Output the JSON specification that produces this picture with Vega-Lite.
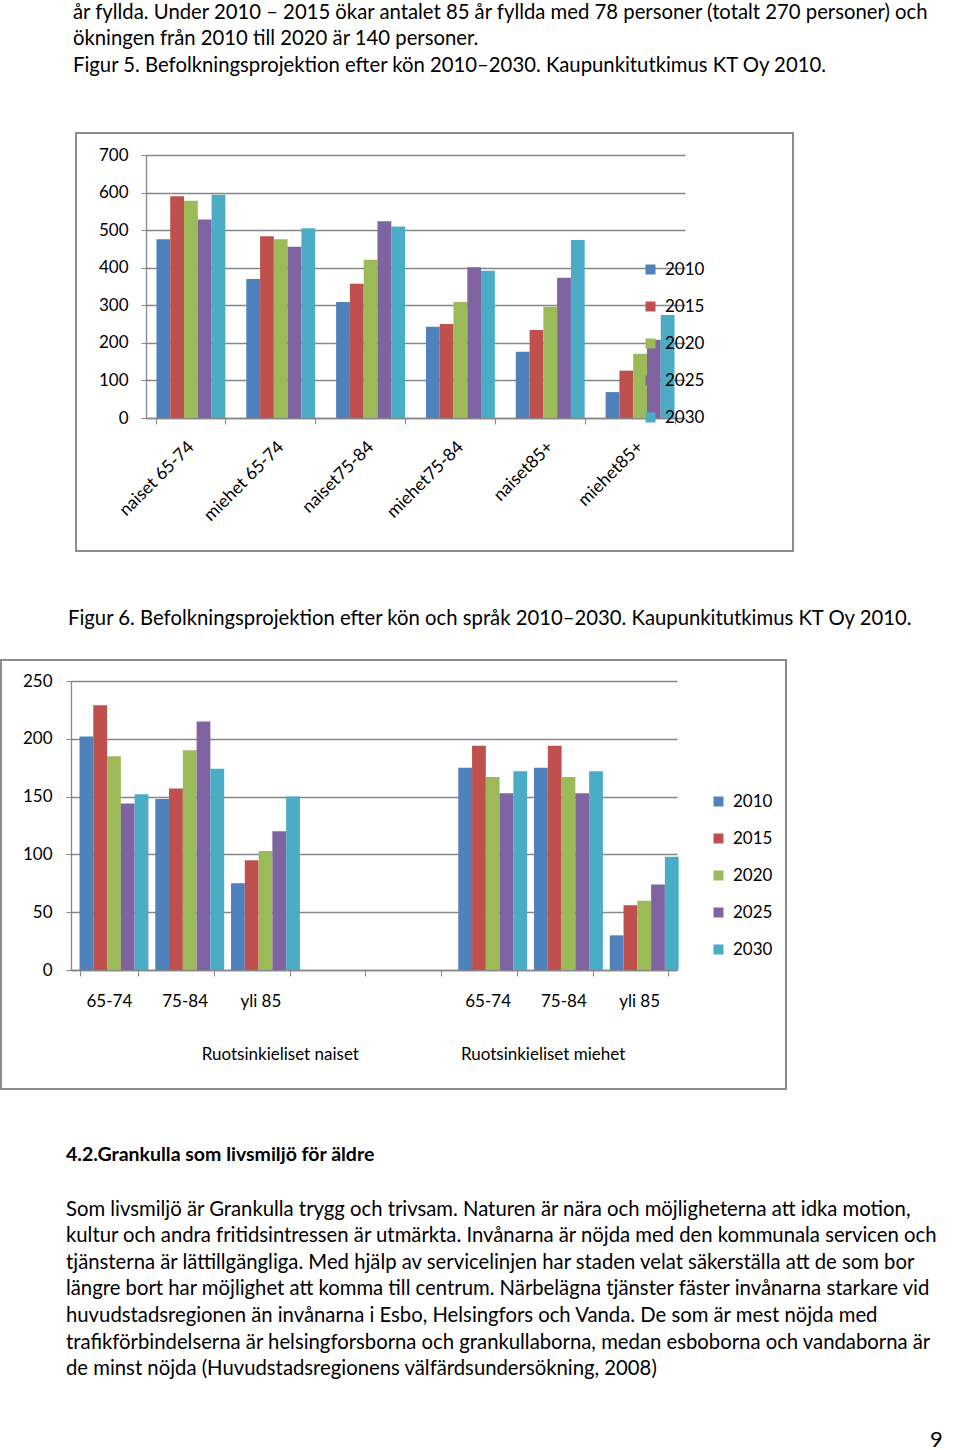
{
  "$schema": "https://vega.github.io/schema/vega-lite/v6.json",
  "background": "white",
  "padding": {"top": 1, "left": 0, "right": 0, "bottom": 0},
  "spacing": 29,
  "title": {"text": "9", "orient": "bottom", "anchor": "end", "frame": "bounds", "offset": 49, "fontSize": 22, "dx": 4},
  "vconcat": [
    {
      "hconcat": [
        {"width": 67, "height": 10, "data": {"values": [{"a": 1}]}, "mark": {"type": "point", "opacity": 0}},
        {
          "width": 717,
          "height": 418,
          "view": {"stroke": "#8c8c8c", "strokeWidth": 2},
          "title": {
            "text": [
              "år fyllda. Under 2010 – 2015 ökar antalet 85 år fyllda med 78 personer (totalt 270 personer) och",
              "ökningen från 2010 till 2020 är 140 personer.",
              "\u00a0",
              "Figur 5. Befolkningsprojektion efter kön 2010–2030. Kaupunkitutkimus KT Oy 2010."
            ],
            "dx": -3,
            "offset": 30
          },
          "data": {
            "values": [
              {"ryhma": "naiset 65-74", "vuosi": "2010", "henkilot": 476},
              {"ryhma": "naiset 65-74", "vuosi": "2015", "henkilot": 590},
              {"ryhma": "naiset 65-74", "vuosi": "2020", "henkilot": 578},
              {"ryhma": "naiset 65-74", "vuosi": "2025", "henkilot": 528},
              {"ryhma": "naiset 65-74", "vuosi": "2030", "henkilot": 594},
              {"ryhma": "miehet 65-74", "vuosi": "2010", "henkilot": 370},
              {"ryhma": "miehet 65-74", "vuosi": "2015", "henkilot": 484},
              {"ryhma": "miehet 65-74", "vuosi": "2020", "henkilot": 476},
              {"ryhma": "miehet 65-74", "vuosi": "2025", "henkilot": 456},
              {"ryhma": "miehet 65-74", "vuosi": "2030", "henkilot": 505},
              {"ryhma": "naiset75-84", "vuosi": "2010", "henkilot": 309},
              {"ryhma": "naiset75-84", "vuosi": "2015", "henkilot": 357},
              {"ryhma": "naiset75-84", "vuosi": "2020", "henkilot": 421},
              {"ryhma": "naiset75-84", "vuosi": "2025", "henkilot": 524},
              {"ryhma": "naiset75-84", "vuosi": "2030", "henkilot": 510},
              {"ryhma": "miehet75-84", "vuosi": "2010", "henkilot": 243},
              {"ryhma": "miehet75-84", "vuosi": "2015", "henkilot": 250},
              {"ryhma": "miehet75-84", "vuosi": "2020", "henkilot": 309},
              {"ryhma": "miehet75-84", "vuosi": "2025", "henkilot": 401},
              {"ryhma": "miehet75-84", "vuosi": "2030", "henkilot": 392},
              {"ryhma": "naiset85+", "vuosi": "2010", "henkilot": 176},
              {"ryhma": "naiset85+", "vuosi": "2015", "henkilot": 234},
              {"ryhma": "naiset85+", "vuosi": "2020", "henkilot": 296},
              {"ryhma": "naiset85+", "vuosi": "2025", "henkilot": 373},
              {"ryhma": "naiset85+", "vuosi": "2030", "henkilot": 474},
              {"ryhma": "miehet85+", "vuosi": "2010", "henkilot": 69},
              {"ryhma": "miehet85+", "vuosi": "2015", "henkilot": 126},
              {"ryhma": "miehet85+", "vuosi": "2020", "henkilot": 171},
              {"ryhma": "miehet85+", "vuosi": "2025", "henkilot": 208},
              {"ryhma": "miehet85+", "vuosi": "2030", "henkilot": 274}
            ]
          },
          "mark": {"type": "bar"},
          "encoding": {
            "x": {
              "field": "ryhma",
              "type": "nominal",
              "sort": ["naiset 65-74", "miehet 65-74", "naiset75-84", "miehet75-84", "naiset85+", "miehet85+"],
              "scale": {"range": [70, 609], "paddingInner": 0.233, "paddingOuter": 0.1165},
              "axis": {
                "title": null,
                "offset": -133,
                "tickBand": "extent",
                "tickSize": 6,
                "labelAngle": -45,
                "labelAlign": "right",
                "labelBaseline": "middle",
                "labelPadding": 20,
                "labelFontSize": 17.5
              }
            },
            "xOffset": {"field": "vuosi", "type": "nominal"},
            "y": {
              "field": "henkilot",
              "type": "quantitative",
              "scale": {"domain": [0, 700], "range": [285, 22], "nice": false},
              "axis": {"title": null, "offset": -70, "tickCount": 7, "tickSize": 5, "labelPadding": 13, "grid": true}
            },
            "color": {
              "field": "vuosi",
              "type": "nominal",
              "scale": {"range": ["#4F81BD", "#C0504D", "#9BBB59", "#8064A2", "#4BACC6"]},
              "legend": {"title": null, "orient": "none", "legendX": 641, "legendY": 128}
            }
          }
        }
      ],
      "spacing": 0,
      "title": {
        "text": "Figur 6. Befolkningsprojektion efter kön och språk 2010–2030. Kaupunkitutkimus KT Oy 2010.",
        "orient": "bottom",
        "dx": 67,
        "offset": 57
      }
    },
    {
      "width": 785,
      "height": 429,
      "view": {"stroke": "#8c8c8c", "strokeWidth": 2},
      "title": {
        "text": "4.2.Grankulla som livsmiljö för äldre",
        "fontWeight": "bold",
        "fontSize": 19.5,
        "orient": "bottom",
        "dx": 65,
        "offset": 57,
        "subtitlePadding": 34,
        "subtitle": [
          "Som livsmiljö är Grankulla trygg och trivsam. Naturen är nära och möjligheterna att idka motion,",
          "kultur och andra fritidsintressen är utmärkta. Invånarna är nöjda med den kommunala servicen och",
          "tjänsterna är lättillgängliga. Med hjälp av servicelinjen har staden velat säkerställa att de som bor",
          "längre bort har möjlighet att komma till centrum. Närbelägna tjänster fäster invånarna starkare vid",
          "huvudstadsregionen än invånarna i Esbo, Helsingfors och Vanda. De som är mest nöjda med",
          "trafikförbindelserna är helsingforsborna och grankullaborna, medan esboborna och vandaborna är",
          "de minst nöjda (Huvudstadsregionens välfärdsundersökning, 2008)"
        ]
      },
      "data": {
        "values": [
          {"ryhma": "naiset 65-74", "vuosi": "2010", "henkilot": 202},
          {"ryhma": "naiset 65-74", "vuosi": "2015", "henkilot": 229},
          {"ryhma": "naiset 65-74", "vuosi": "2020", "henkilot": 185},
          {"ryhma": "naiset 65-74", "vuosi": "2025", "henkilot": 144},
          {"ryhma": "naiset 65-74", "vuosi": "2030", "henkilot": 152},
          {"ryhma": "naiset 75-84", "vuosi": "2010", "henkilot": 148},
          {"ryhma": "naiset 75-84", "vuosi": "2015", "henkilot": 157},
          {"ryhma": "naiset 75-84", "vuosi": "2020", "henkilot": 190},
          {"ryhma": "naiset 75-84", "vuosi": "2025", "henkilot": 215},
          {"ryhma": "naiset 75-84", "vuosi": "2030", "henkilot": 174},
          {"ryhma": "naiset yli 85", "vuosi": "2010", "henkilot": 75},
          {"ryhma": "naiset yli 85", "vuosi": "2015", "henkilot": 95},
          {"ryhma": "naiset yli 85", "vuosi": "2020", "henkilot": 103},
          {"ryhma": "naiset yli 85", "vuosi": "2025", "henkilot": 120},
          {"ryhma": "naiset yli 85", "vuosi": "2030", "henkilot": 150},
          {"ryhma": "miehet 65-74", "vuosi": "2010", "henkilot": 175},
          {"ryhma": "miehet 65-74", "vuosi": "2015", "henkilot": 194},
          {"ryhma": "miehet 65-74", "vuosi": "2020", "henkilot": 167},
          {"ryhma": "miehet 65-74", "vuosi": "2025", "henkilot": 153},
          {"ryhma": "miehet 65-74", "vuosi": "2030", "henkilot": 172},
          {"ryhma": "miehet 75-84", "vuosi": "2010", "henkilot": 175},
          {"ryhma": "miehet 75-84", "vuosi": "2015", "henkilot": 194},
          {"ryhma": "miehet 75-84", "vuosi": "2020", "henkilot": 167},
          {"ryhma": "miehet 75-84", "vuosi": "2025", "henkilot": 153},
          {"ryhma": "miehet 75-84", "vuosi": "2030", "henkilot": 172},
          {"ryhma": "miehet yli 85", "vuosi": "2010", "henkilot": 30},
          {"ryhma": "miehet yli 85", "vuosi": "2015", "henkilot": 56},
          {"ryhma": "miehet yli 85", "vuosi": "2020", "henkilot": 60},
          {"ryhma": "miehet yli 85", "vuosi": "2025", "henkilot": 74},
          {"ryhma": "miehet yli 85", "vuosi": "2030", "henkilot": 98}
        ]
      },
      "mark": {"type": "bar"},
      "encoding": {
        "x": {
          "field": "ryhma",
          "type": "nominal",
          "scale": {
            "domain": ["naiset 65-74", "naiset 75-84", "naiset yli 85", "tyhjä 1", "tyhjä 2", "miehet 65-74", "miehet 75-84", "miehet yli 85"],
            "range": [70, 676],
            "paddingInner": 0.225,
            "paddingOuter": 0.1125
          },
          "axis": {
            "title": "Ruotsinkieliset naiset\u2003\u2003\u2003\u2003\u2003\u2003\u2003\u2003Ruotsinkieliset miehet",
            "titleX": 412,
            "titleAlign": "center",
            "titlePadding": 37,
            "titleFont": "Lato",
            "titleFontSize": 17,
            "titleFontWeight": "normal",
            "titleColor": "#000000",
            "offset": -119,
            "tickBand": "extent",
            "tickSize": 6,
            "labelPadding": 17,
            "labelAngle": 0,
            "labelExpr": "isString(datum.value) && indexof(datum.value, 'tyhj') < 0 ? substring(datum.value, 7) : ''"
          }
        },
        "xOffset": {"field": "vuosi", "type": "nominal"},
        "y": {
          "field": "henkilot",
          "type": "quantitative",
          "scale": {"domain": [0, 250], "range": [310, 21], "nice": false},
          "axis": {"title": null, "offset": -70, "tickCount": 5, "tickSize": 5, "labelPadding": 14, "grid": true}
        },
        "color": {
          "field": "vuosi",
          "type": "nominal",
          "scale": {"range": ["#4F81BD", "#C0504D", "#9BBB59", "#8064A2", "#4BACC6"]},
          "legend": {"title": null, "orient": "none", "legendX": 709, "legendY": 133}
        }
      }
    }
  ],
  "resolve": {"legend": {"color": "independent"}},
  "config": {
    "font": "Lato",
    "view": {"stroke": null},
    "title": {
      "font": "Lato",
      "fontWeight": "normal",
      "color": "#000000",
      "fontSize": 20.3,
      "anchor": "start",
      "frame": "group",
      "lineHeight": 26.65,
      "subtitleFont": "Lato",
      "subtitleFontSize": 20.3,
      "subtitleColor": "#000000",
      "subtitleLineHeight": 26.65
    },
    "axis": {
      "labelFont": "Lato",
      "labelColor": "#000000",
      "labelFontSize": 17,
      "domainColor": "#868686",
      "tickColor": "#868686",
      "gridColor": "#868686",
      "domainWidth": 1.3,
      "gridWidth": 1.3
    },
    "legend": {
      "symbolType": "square",
      "symbolSize": 100,
      "symbolStrokeWidth": 0,
      "symbolOpacity": 1,
      "labelFont": "Lato",
      "labelFontSize": 17,
      "labelColor": "#000000",
      "rowPadding": 19,
      "labelOffset": 6,
      "padding": 0
    }
  }
}
